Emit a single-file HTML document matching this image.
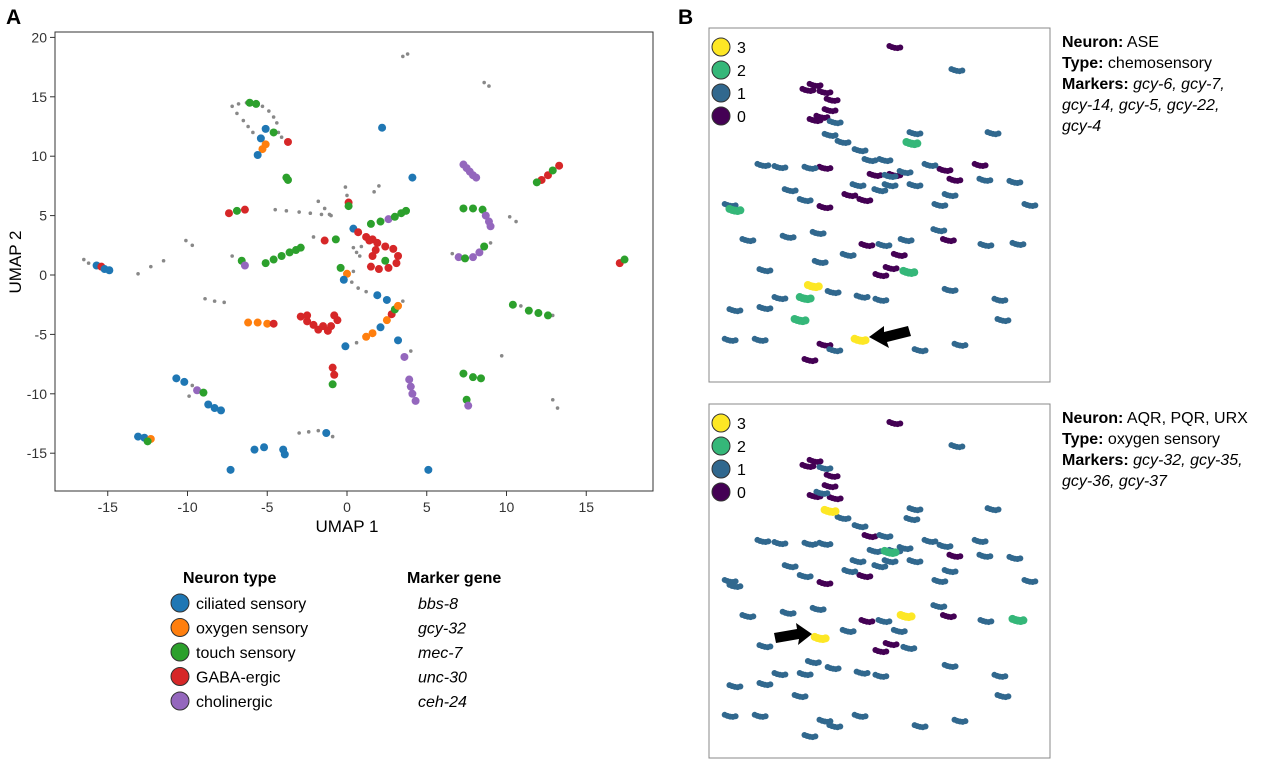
<!DOCTYPE html>
<html><head><meta charset="utf-8"><style>
body{margin:0;background:#fff;width:1280px;height:760px;overflow:hidden;font-family:"Liberation Sans",Arial,sans-serif}
svg text{font-family:"Liberation Sans",Arial,sans-serif}
</style></head><body>
<svg id="s" width="1280" height="760">
<text x="6" y="24" font-size="21" font-weight="bold">A</text>
<text x="678" y="24" font-size="21" font-weight="bold">B</text>
<g id="ga"></g>
<g id="gb1"></g>
<g id="gb2"></g>
<g font-size="16">
<text x="1062" y="47"><tspan font-weight="bold">Neuron:</tspan> ASE</text>
<text x="1062" y="68"><tspan font-weight="bold">Type:</tspan> chemosensory</text>
<text x="1062" y="89"><tspan font-weight="bold">Markers:</tspan> <tspan font-style="italic">gcy-6, gcy-7,</tspan></text>
<text x="1062" y="110" font-style="italic">gcy-14, gcy-5, gcy-22,</text>
<text x="1062" y="131" font-style="italic">gcy-4</text>
</g>
<g font-size="16">
<text x="1062" y="423"><tspan font-weight="bold">Neuron:</tspan> AQR, PQR, URX</text>
<text x="1062" y="444"><tspan font-weight="bold">Type:</tspan> oxygen sensory</text>
<text x="1062" y="465"><tspan font-weight="bold">Markers:</tspan> <tspan font-style="italic">gcy-32, gcy-35,</tspan></text>
<text x="1062" y="486" font-style="italic">gcy-36, gcy-37</text>
</g>
<g id="leg" font-size="16">
<text x="183" y="583" font-weight="bold">Neuron type</text>
<text x="407" y="583" font-weight="bold">Marker gene</text>
</g>
</svg>
<script>
const NS="http://www.w3.org/2000/svg";
const catColors=["#1f77b4","#ff7f0e","#2ca02c","#d62728","#9467bd","#888888"];
const catNames=["ciliated sensory","oxygen sensory","touch sensory","GABA-ergic","cholinergic"];
const markerGenes=["bbs-8","gcy-32","mec-7","unc-30","ceh-24"];
const xTicks=[-15,-10,-5,0,5,10,15];
const yTicks=[-15,-10,-5,0,5,10,15,20];
// [x, y, category] ; category 5 = unlabelled (grey)
const aPoints=[
[-7.2,14.2,5],[-6.8,14.4,5],[-6.3,14.5,5],[-5.8,14.4,5],[-5.3,14.2,5],[-4.9,13.8,5],[-4.6,13.3,5],[-4.4,12.8,5],[-6.9,13.6,5],[-6.5,13,5],[-6.2,12.5,5],[-5.9,12,5],[-4.3,12,5],[-4.1,11.6,5],
[-6.1,14.5,2],[-5.7,14.4,2],[-5.1,12.3,0],[-5.4,11.5,0],[-4.6,12,2],[-5.3,10.6,1],[-5.1,11,1],[-3.7,11.2,3],[-5.6,10.1,0],
[3.5,18.4,5],[3.8,18.6,5],[8.6,16.2,5],[8.9,15.9,5],[2.2,12.4,0],[-3.8,8.2,2],[-3.7,8,2],[4.1,8.2,0],
[7.3,9.3,4],[7.5,9,4],[7.7,8.7,4],[7.9,8.4,4],[8.1,8.2,4],
[12.2,8,3],[12.6,8.4,3],[12.9,8.8,2],[13.3,9.2,3],[11.9,7.8,2],
[-7.4,5.2,3],[-6.9,5.4,2],[-6.4,5.5,3],
[-4.5,5.5,5],[-3.8,5.4,5],[-3,5.3,5],[-2.3,5.2,5],[-1.6,5.1,5],[-1.1,5.1,5],
[-1.8,6.2,5],[-1.4,5.6,5],[-1.0,5.0,5],[-0.1,7.4,5],[0,6.7,5],[0.1,6.1,3],[0.1,5.8,2],[1.7,7,5],[2.0,7.5,5],
[0.4,3.9,0],[0.7,3.6,3],[1.5,4.3,2],[2.1,4.5,2],[2.6,4.7,4],[3.0,4.9,2],[3.4,5.2,2],[3.7,5.4,2],[1.2,3.2,3],[1.6,3.0,3],
[-1.4,2.9,3],[-2.1,3.2,5],[-0.7,3.0,2],[0.4,2.3,5],[0.6,1.9,5],[0.9,2.4,5],[0.8,1.6,5],
[1.4,2.9,3],[1.9,2.7,3],[2.4,2.4,3],[2.9,2.2,3],[3.2,1.6,3],[3.1,1,3],[2.6,0.6,3],[2.0,0.5,3],[1.5,0.7,3],[1.6,1.6,3],[1.8,2.1,3],[2.4,1.2,2],
[-5.1,1.0,2],[-4.6,1.3,2],[-4.1,1.6,2],[-3.6,1.9,2],[-3.2,2.1,2],[-2.9,2.3,2],
[-6.6,1.2,2],[-6.4,0.8,4],[-7.2,1.6,5],
[-15.7,0.8,0],[-15.4,0.7,3],[-15.2,0.5,0],[-14.9,0.4,0],[-16.5,1.3,5],[-16.2,1,5],
[-11.5,1.2,5],[-12.3,0.7,5],[-13.1,0.1,5],[-10.1,2.9,5],[-9.7,2.5,5],
[6.6,1.8,5],[7.0,1.5,4],[7.4,1.4,2],[7.9,1.5,4],[8.3,1.9,4],[8.6,2.4,2],[9,2.7,5],
[10.2,4.9,5],[10.6,4.5,5],[17.1,1.0,3],[17.4,1.3,2],
[8.5,5.5,2],[7.3,5.6,2],[7.9,5.6,2],[8.7,5.0,4],[8.9,4.5,4],[9,4.1,4],
[-0.4,0.6,2],[0,0.1,1],[-0.2,-0.4,0],[0.3,-0.6,5],[0.7,-1.1,5],[1.2,-1.4,5],[1.9,-1.7,0],[2.5,-2.1,0],[0.4,0.3,5],
[-8.9,-2.0,5],[-8.3,-2.2,5],[-7.7,-2.3,5],
[-6.2,-4,1],[-5.6,-4.0,1],[-5.0,-4.1,1],[-4.6,-4.1,3],
[-2.9,-3.5,3],[-2.5,-3.9,3],[-2.1,-4.2,3],[-1.5,-4.3,3],[-1,-4.3,3],[-0.6,-3.8,3],[-0.8,-3.4,3],[-2.5,-3.4,3],[-1.8,-4.6,3],[-1.2,-4.7,3],
[-0.1,-6,0],[0.6,-5.7,5],[1.2,-5.2,1],[1.6,-4.9,1],[2.1,-4.4,0],[2.5,-3.8,1],[2.8,-3.3,3],[3,-2.9,2],[3.2,-2.6,1],[3.5,-2.2,5],
[10.4,-2.5,2],[10.9,-2.6,5],[11.4,-3.0,2],[12.0,-3.2,2],[12.6,-3.4,2],[12.9,-3.4,5],
[3.6,-6.9,4],[4,-6.4,5],[3.2,-5.5,0],[-0.9,-7.8,3],[-0.8,-8.4,3],[-0.9,-9.2,2],
[7.3,-8.3,2],[7.9,-8.6,2],[8.4,-8.7,2],[3.9,-8.8,4],[4.0,-9.4,4],[4.1,-10,4],[4.3,-10.6,4],[7.5,-10.5,2],[7.6,-11,4],
[9.7,-6.8,5],[12.9,-10.5,5],[13.2,-11.2,5],
[-10.7,-8.7,0],[-10.2,-9,0],[-9.7,-9.3,5],[-9.4,-9.7,4],[-9.0,-9.9,2],[-9.9,-10.2,5],
[-8.7,-10.9,0],[-8.3,-11.2,0],[-7.9,-11.4,0],
[-3,-13.3,5],[-2.4,-13.2,5],[-1.8,-13.1,5],[-1.3,-13.3,0],[-0.9,-13.6,5],
[-5.8,-14.7,0],[-5.2,-14.5,0],[-4.0,-14.7,0],[-3.9,-15.1,0],[-7.3,-16.4,0],[5.1,-16.4,0],
[-13.1,-13.6,0],[-12.7,-13.7,0],[-12.3,-13.8,1],[-12.5,-14,2]
];
// panel B: shared layout (0-100 units) and expression levels
const bX=[54.5,72.7,29,31.1,34,36.1,35.5,33.1,31.1,37,35.5,39.3,60.4,59.5,83.3,15.8,20.8,29.6,34,44.3,47.2,48.7,43.7,50.1,54.5,45.7,51.6,53.1,41.3,57.5,60.4,64.8,69.2,72.1,70.7,67.7,79.5,80.9,89.7,23.8,28.2,34,6.2,7.6,94.1,67.4,70.2,23.2,32,40.8,46.3,51.3,57.8,55.8,53.4,50.4,81.2,11.4,32.6,58.6,16.4,30.6,36.4,20.8,28.2,16.4,26.7,7.6,44.9,50.4,70.7,85.3,86.2,44.3,34,36.9,6.2,15,29.6,61.9,73.6,53.1,90.6];
const bY=[5.4,11.9,17.5,16.1,18.1,20.3,23.2,25.1,26,26.6,30.2,32.2,29.7,32.5,29.7,38.7,39.3,39.5,39.5,34.5,37.3,41.5,44.4,45.8,41.5,48.6,37.3,44.4,47.2,40.7,44.4,38.7,40.1,42.9,47.2,50,38.7,42.9,43.5,45.8,48.6,50.6,50,51.4,50,57.1,59.9,59,57.9,64.1,61.3,61.3,59.9,64.1,67.8,69.8,61.3,59.9,66.1,68.9,68.4,72.9,74.6,76.3,76.3,79.1,82.5,79.7,75.9,76.8,74,76.8,82.5,88.1,89.5,91,88.1,88.1,93.8,91,89.5,41.8,61];
const bVal1=[0,1,0,0,0,0,0,0,0,1,1,1,1,2,1,1,1,1,0,1,1,0,1,1,0,0,1,1,0,1,1,1,0,0,1,1,0,1,1,1,1,0,1,2,1,1,0,1,1,1,0,1,1,0,0,0,1,1,1,2,1,3,1,1,2,1,2,1,1,1,1,1,1,3,0,1,1,1,0,1,1,1,1];
const bVal2=[0,1,0,0,1,0,0,1,0,0,3,1,1,1,1,1,1,1,1,1,0,1,1,1,1,0,1,1,1,1,1,1,1,0,1,1,1,1,1,1,1,0,1,1,1,1,0,1,1,1,0,1,3,1,0,0,1,1,3,1,1,1,1,1,1,1,1,1,1,1,1,1,1,1,1,1,1,1,1,1,1,2,2];
const levels=[3,2,1,0];
const levelColors=["#440154","#31688e","#35b779","#fde725"];

const svg=document.getElementById('s');
function mk(tag,attrs,parent){const e=document.createElementNS(NS,tag);for(const k in attrs)e.setAttribute(k,attrs[k]);parent.appendChild(e);return e;}

const ga=document.getElementById('ga');
const L=55,R=653,T=32,B=491;
const sx=v=>347+v*15.95;
const sy=v=>275-v*11.88;
const frame=mk('rect',{x:L,y:T,width:R-L,height:B-T,fill:'none',stroke:'#333','stroke-width':1},ga);


xTicks.forEach(t=>{
  mk('line',{x1:sx(t),x2:sx(t),y1:B,y2:B+5,stroke:'#333'},ga);
  const tx=mk('text',{x:sx(t),y:B+21,'font-size':14,'text-anchor':'middle',fill:'#333'},ga);tx.textContent=t;
  
  
});
yTicks.forEach(t=>{
  mk('line',{x1:L-5,x2:L,y1:sy(t),y2:sy(t),stroke:'#333'},ga);
  const tx=mk('text',{x:L-8,y:sy(t)+5,'font-size':14,'text-anchor':'end',fill:'#333'},ga);tx.textContent=t;
  
  
});
const xt=mk('text',{x:347,y:532,'font-size':17,'text-anchor':'middle'},ga);xt.textContent='UMAP 1';


const yt=mk('text',{x:21,y:262,'font-size':17,'text-anchor':'middle',transform:'rotate(-90 21 262)'},ga);yt.textContent='UMAP 2';


aPoints.filter(p=>p[2]===5).concat(aPoints.filter(p=>p[2]!==5)).forEach(p=>{
  const g=p[2]===5;
  const c=mk('circle',{cx:sx(p[0]),cy:sy(p[1]),r:g?1.8:4,fill:catColors[p[2]]},ga);
  
  
});
const leg=document.getElementById('leg');
catNames.forEach((n,i)=>{
  const y=603+i*24.5;
  const c=mk('circle',{cx:180,cy:y,r:9,fill:catColors[i],stroke:'#333','stroke-width':1},leg);
  
  
  const t=mk('text',{x:196,y:y+6},leg);t.textContent=n;
  
  
  const m=mk('text',{x:418,y:y+6,'font-style':'italic'},leg);m.textContent=markerGenes[i];
  
  
});

function drawB(g,top,vals,arrow){
  const fx=709,fw=341,fh=354;
  const bx=v=>fx+v*fw/100, by=v=>top+v*fh/100;
  const fr=mk('rect',{x:fx,y:top,width:fw,height:fh,fill:'none',stroke:'#888'},g);
  
  
  const order=bX.map((_,i)=>i).sort((a,b)=>vals[a]-vals[b]);
  const offs=[[-1.6,-0.3],[-0.8,0],[0,0.2],[0.8,0.3],[1.6,0.1]];
  order.forEach(i=>{
    const v=vals[i];
    offs.forEach(o=>{
      const c=mk('circle',{cx:bx(bX[i]+o[0]),cy:by(bY[i]+o[1]),r:v>=2?4:3,fill:levelColors[v]},g);
      
      
    });
  });
  levels.forEach((lv,j)=>{
    const y=top+19+j*23;
    const c=mk('circle',{cx:721,cy:y,r:9,fill:levelColors[lv],stroke:'#333'},g);
    
    
    const t=mk('text',{x:737,y:y+6,'font-size':16},g);t.textContent=lv;
    
    
  });
  const a=mk('polygon',{points:arrow,fill:'#000'},g);
  
  
}
drawB(document.getElementById('gb1'),28,bVal1,"869,337 884,326 884,332 908,326 911,336 887,342 889,348");
drawB(document.getElementById('gb2'),404,bVal2,"812,634 796,623 797,629 774,633 776,643 799,639 798,645");
</script>
</body></html>
